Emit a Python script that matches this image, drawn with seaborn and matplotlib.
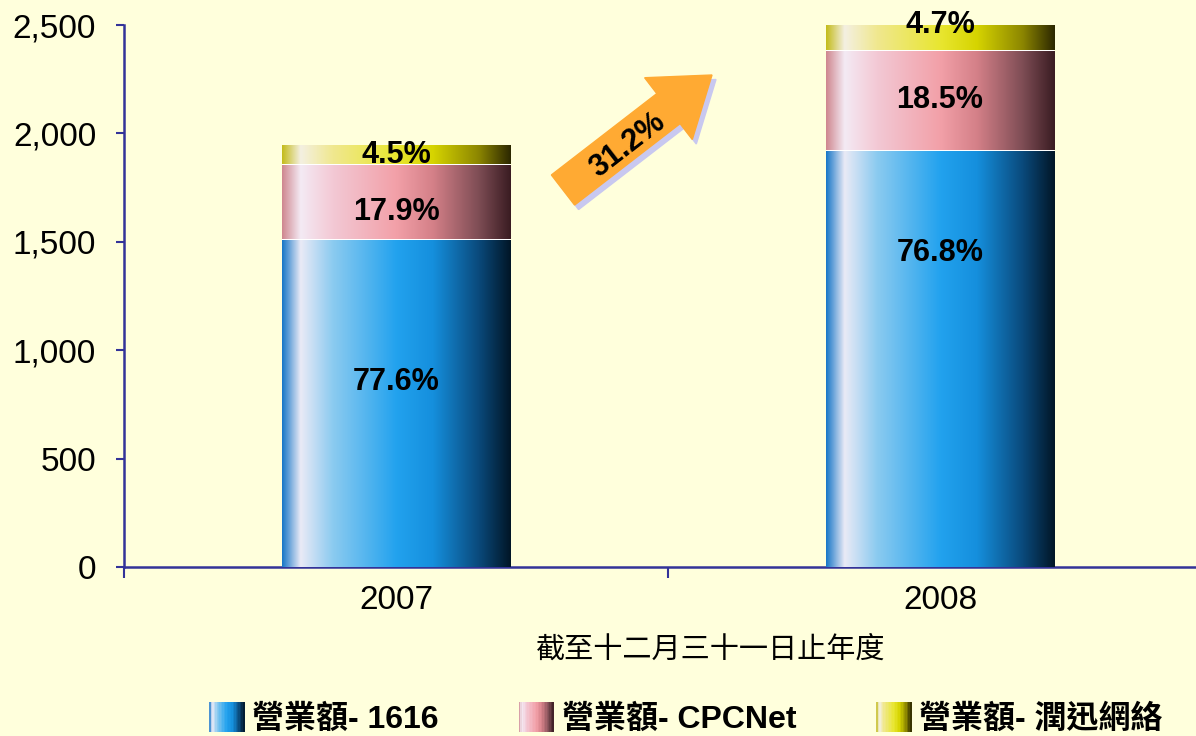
import numpy as np
import matplotlib
matplotlib.use("Agg")
from matplotlib import pyplot as plt
from matplotlib import patches as mpatches
from matplotlib.colors import LinearSegmentedColormap
from matplotlib.legend_handler import HandlerBase
from matplotlib.ticker import StrMethodFormatter
import seaborn as sns

# data
years = ["2007", "2008"]
rev_1616 = [1508, 1920]
rev_cpcnet = [348, 460]
rev_runxun = [87, 117]
pct_1616 = ["77.6%", "76.8%"]
pct_cpcnet = ["17.9%", "18.5%"]
pct_runxun = ["4.5%", "4.7%"]
growth_label = "31.2%"
series_names = ["營業額- 1616", "營業額- CPCNet", "營業額- 潤迅網絡"]
x_title = "截至十二月三十一日止年度"
y_ticks = [0, 500, 1000, 1500, 2000, 2500]

BG = "#FFFFDC"
AXIS = "#333399"

# horizontal shading of each series (cylinder look)
grad_1616 = ["#1a78c8", "#eaeaf6", "#8ccbf0", "#22a2ee", "#158fdd", "#0a4a7c", "#011627"]
grad_cpcnet = ["#cf8890", "#f4eaf4", "#f3c9d5", "#f2a0a8", "#d48088", "#7e4d55", "#3a1c22"]
grad_runxun = ["#c4bc1c", "#f4f0e2", "#f0e890", "#e8e630", "#d6d400", "#8c8600", "#2c2800"]
stops = [0.0, 0.08, 0.22, 0.5, 0.66, 0.86, 1.0]


def make_cmap(colors):
    return LinearSegmentedColormap.from_list("g", list(zip(stops, colors)))


cmaps = [make_cmap(grad_1616), make_cmap(grad_cpcnet), make_cmap(grad_runxun)]


class GradientHandler(HandlerBase):
    def __init__(self, cmap):
        super().__init__()
        self.cmap = cmap

    def create_artists(self, legend, orig_handle, xdescent, ydescent,
                       width, height, fontsize, trans):
        n = 24
        arts = []
        for i in range(n):
            r = mpatches.Rectangle((-xdescent + width * i / n, -ydescent - 3),
                                   width / n + 0.3, height + 6,
                                   facecolor=self.cmap((i + 0.5) / n),
                                   edgecolor="none", transform=trans)
            arts.append(r)
        return arts


sns.set_style("white")
plt.rcParams["font.family"] = ["Liberation Sans", "Noto Sans CJK TC"]
plt.rcParams["text.color"] = "black"
plt.rcParams["xtick.labelcolor"] = "black"
plt.rcParams["ytick.labelcolor"] = "black"
plt.rcParams["axes.labelcolor"] = "black"

fig = plt.figure(figsize=(11.96, 7.36), dpi=100, facecolor=BG)
ax = fig.add_axes([124 / 1196, 169 / 736, 1088 / 1196, 542 / 736])
ax.set_facecolor(BG)

cum_cpc = [a + b for a, b in zip(rev_1616, rev_cpcnet)]
total = [a + b for a, b in zip(cum_cpc, rev_runxun)]

# stacked bars drawn as overlapping cumulative heights, top layer first
layers = [total, cum_cpc, rev_1616]
bottoms = [cum_cpc, rev_1616, [0, 0]]
layer_cmaps = [cmaps[2], cmaps[1], cmaps[0]]
for h in layers:
    sns.barplot(x=years, y=h, color="white", width=0.42, edgecolor="none",
                ax=ax, zorder=2)

gap = 3.5
grad = np.linspace(0, 1, 256).reshape(1, -1)
for li, cont in enumerate(ax.containers):
    for j, p in enumerate(cont.patches):
        x0 = p.get_x()
        x1 = x0 + p.get_width()
        top = layers[li][j] - (0 if li == 0 else gap)
        bot = bottoms[li][j] + (0 if li == 2 else gap)
        ax.imshow(grad, cmap=layer_cmaps[li], aspect="auto",
                  extent=(x0, x1, bot, top), zorder=3, interpolation="bilinear")

# percentage labels, position within each segment
label_frac = {"1616": [0.566, 0.754], "cpc": [0.37, 0.51], "run": [0.5, 1.03]}
lab_kw = dict(ha="center", va="center", fontsize=22, fontweight="bold", zorder=5)
for j in range(len(years)):
    ax.text(j, rev_1616[j] * label_frac["1616"][j], pct_1616[j], **lab_kw)
    ax.text(j, rev_1616[j] + rev_cpcnet[j] * label_frac["cpc"][j], pct_cpcnet[j],
            **lab_kw)
    ax.text(j, cum_cpc[j] + rev_runxun[j] * label_frac["run"][j], pct_runxun[j],
            **lab_kw)

ax.set_xlim(-0.5, 1.5)
ax.set_ylim(0, 2500)
ax.set_yticks(y_ticks)
ax.yaxis.set_major_formatter(StrMethodFormatter("{x:,.0f}"))
ax.set_xticks([-0.5, 0.5, 1.5])
ax.set_xticklabels(["", "", ""])
ax.set_xticks([0, 1], minor=True)
ax.set_xticklabels(years, minor=True)
ax.tick_params(axis="y", direction="out", length=6, width=1.5, color=AXIS,
               labelsize=24, pad=14, left=True)
ax.tick_params(axis="x", which="major", direction="out", length=8, width=1.5,
               color=AXIS, bottom=True)
ax.tick_params(axis="x", which="minor", length=0, labelsize=24, pad=13)
for s in ["top", "right"]:
    ax.spines[s].set_visible(False)
for s in ["left", "bottom"]:
    ax.spines[s].set_color(AXIS)
    ax.spines[s].set_linewidth(1.8)
ax.set_xlabel(x_title, fontsize=21, family=["Noto Sans CJK TC"])
ax.xaxis.set_label_coords((711 - 124) / 1088, -0.125)
ax.set_ylabel("")

# growth arrow (in figure inches)
tail = (5.63, 5.46)
d = (1.49, 1.15)
shadow = mpatches.FancyArrow(tail[0] + 0.04, tail[1] - 0.045, d[0], d[1], width=0.38,
                             head_width=0.78, head_length=0.55,
                             length_includes_head=True, color="#C8C8F0",
                             transform=fig.dpi_scale_trans)
arrow = mpatches.FancyArrow(tail[0], tail[1], d[0], d[1], width=0.38,
                            head_width=0.78, head_length=0.55,
                            length_includes_head=True, color="#FFAA33",
                            transform=fig.dpi_scale_trans)
fig.add_artist(shadow)
fig.add_artist(arrow)
fig.text(6.28, 7.36 - 1.45, growth_label, transform=fig.dpi_scale_trans,
         rotation=37.7, ha="center", va="center", fontsize=22, fontweight="bold")

# legend with gradient swatches
handles = [mpatches.Patch(label=n) for n in series_names]
hmap = {h: GradientHandler(c) for h, c in zip(handles, cmaps)}
fig.legend(handles=handles, handler_map=hmap, loc="center",
           bbox_to_anchor=(686 / 1196, 1 - 720 / 736), ncol=3, frameon=False,
           prop={"size": 23, "weight": "bold",
                 "family": ["Liberation Sans", "Noto Sans CJK TC"]},
           handlelength=1.1, handleheight=0.7, handletextpad=0.25,
           columnspacing=2.5)

fig.savefig("out.png", dpi=100, facecolor=BG)
